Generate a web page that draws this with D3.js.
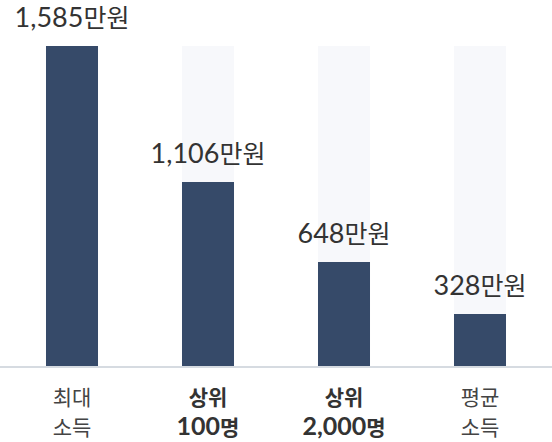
<!DOCTYPE html>
<html>
<head>
<meta charset="utf-8">
<script src="https://cdn.jsdelivr.net/npm/d3@7"></script>
<style>
  html, body { margin: 0; padding: 0; background: #fff; }
  svg { display: block; }
</style>
</head>
<body>
<svg id="chart" width="552" height="442"></svg>
<script>
// ---- data ----
const categories = [["최대", "소득"], ["상위", "100명"], ["상위", "2,000명"], ["평균", "소득"]];
const boldLabel = [false, true, true, false];
const values = [1585, 1106, 648, 328];
const valueLabels = ["1,585만원", "1,106만원", "648만원", "328만원"];

(function () {
// ---- layout ----
const W = 552, H = 442;
const plotTop = 46, baseline = 366;
const plotH = baseline - plotTop;

const svg = d3.select("#chart");

const x = d3.scaleBand()
  .domain(d3.range(values.length))
  .range([0, W])
  .paddingInner(0.6176)
  .paddingOuter(0.3382);

// The reference uses a non-proportional (piecewise) value axis
const sortedVals = [0].concat(values.slice().sort((a, b) => a - b));
const stopFrac = [0, 0.1625, 0.325, 0.575, 1];
const y = d3.scaleLinear()
  .domain(sortedVals)
  .range(stopFrac.map(f => baseline - f * plotH));

const latin = "Lato, 'Noto Sans', sans-serif";
const hangul = "'Noto Sans CJK KR', 'Noto Sans', sans-serif";

// split text into Hangul / non-Hangul runs with own font and size
function addRuns(sel, str, latinSize, hangulSize) {
  const runs = str.match(/[\uAC00-\uD7A3]+|[^\uAC00-\uD7A3]+/g) || [];
  runs.forEach(r => {
    const isH = /[\uAC00-\uD7A3]/.test(r);
    sel.append("tspan")
      .attr("font-family", isH ? hangul : latin)
      .attr("font-size", isH ? hangulSize : latinSize)
      .text(r);
  });
}

// background track bars
svg.selectAll("rect.track")
  .data(values)
  .enter().append("rect")
  .attr("class", "track")
  .attr("x", (d, i) => x(i))
  .attr("width", x.bandwidth())
  .attr("y", y(d3.max(values)))
  .attr("height", baseline - y(d3.max(values)))
  .attr("fill", "#f7f8fb");

// bars
svg.selectAll("rect.bar")
  .data(values)
  .enter().append("rect")
  .attr("class", "bar")
  .attr("x", (d, i) => x(i))
  .attr("width", x.bandwidth())
  .attr("y", d => y(d))
  .attr("height", d => baseline - y(d))
  .attr("fill", "#364a69");

// baseline
svg.append("rect")
  .attr("x", 0).attr("width", W)
  .attr("y", baseline).attr("height", 2)
  .attr("fill", "#d6dbe1");

// value labels
svg.selectAll("text.val")
  .data(values)
  .enter().append("text")
  .attr("class", "val")
  .attr("x", (d, i) => x(i) + x.bandwidth() / 2)
  .attr("y", d => y(d) - 19)
  .attr("text-anchor", "middle")
  .attr("fill", "#333")
  .each(function (d, i) { addRuns(d3.select(this), valueLabels[i], 27, 25); });

// category labels
svg.selectAll("g.cat")
  .data(categories)
  .enter().append("g")
  .attr("class", "cat")
  .each(function (d, i) {
    const g = d3.select(this);
    d.forEach((line, j) => {
      const t = g.append("text")
        .attr("x", x(i) + x.bandwidth() / 2)
        .attr("y", 405 + j * 30)
        .attr("text-anchor", "middle")
        .attr("font-weight", boldLabel[i] ? 700 : 400)
        .attr("fill", boldLabel[i] ? "#333" : "#444");
      addRuns(t, line, 25, 21);
    });
  });
})();
</script>
</body>
</html>
